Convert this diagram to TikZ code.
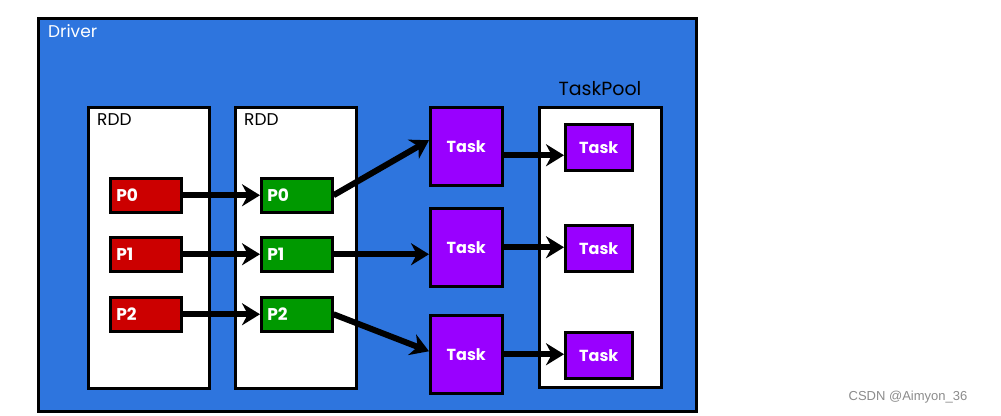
\documentclass[tikz,border=0pt]{standalone}
\usepackage{fontspec}
\setmainfont{Poppins}
\newfontfamily\wmfont{Liberation Sans}
\usetikzlibrary{arrows.meta}
\definecolor{drvblue}{RGB}{46,117,222}
\definecolor{pred}{RGB}{204,0,0}
\definecolor{pgreen}{RGB}{0,153,0}
\definecolor{tpurple}{RGB}{153,0,255}
\definecolor{wmgrey}{RGB}{140,140,140}
\tikzset{
  box/.style={draw=black, line width=2.5pt, fill=white, anchor=north west, inner sep=0pt},
  part/.style={draw=black, line width=2.5pt, anchor=north west, inner xsep=6pt, inner ysep=0pt, text width=59pt, align=left, minimum height=34pt, text=white, font=\fontsize{17}{19}\selectfont\bfseries},
  redpart/.style={part, fill=pred},
  greenpart/.style={part, fill=pgreen},
  bigtask/.style={draw=black, line width=2.5pt, fill=tpurple, anchor=north west, inner sep=0pt, minimum width=72pt, minimum height=78pt, text=white, font=\fontsize{16}{18}\selectfont\bfseries},
  smalltask/.style={draw=black, line width=2.5pt, fill=tpurple, anchor=north west, inner sep=0pt, minimum width=67pt, minimum height=46pt, text=white, font=\fontsize{16}{18}\selectfont\bfseries},
  flow/.style={line width=6pt, -{Stealth[length=18pt,width=22pt]}},
  lbl/.style={anchor=north west, inner sep=0pt, font=\fontsize{17}{19}\selectfont}
}
\begin{document}
\begin{tikzpicture}[x=1pt,y=-1pt]
\useasboundingbox (0,0) rectangle (1001,415);
\fill[white] (0,0) rectangle (1001,415);
\node[draw=black, line width=3pt, fill=drvblue, anchor=north west, inner sep=0pt, minimum width=658pt, minimum height=393pt] (driver) at (37,17) {};
\node[lbl, text=white] (drvlbl) at (48,24) {Driver};

\node[box, minimum width=121pt, minimum height=281pt] (rdd1) at (87,106) {};
\node[box, minimum width=121pt, minimum height=281pt] (rdd2) at (234,106) {};
\node[lbl] (rdd1lbl) at (97,113) {RDD};
\node[lbl] (rdd2lbl) at (244,113) {RDD};

\node[box, minimum width=122pt, minimum height=280pt] (pool) at (538,106) {};
\node[anchor=center, inner sep=0pt, font=\fontsize{19}{21}\selectfont] (poollbl) at (600,89) {TaskPool};

\node[redpart] (r0) at (109,177) {P0};
\node[redpart] (r1) at (109,236) {P1};
\node[redpart] (r2) at (109,296) {P2};
\node[greenpart] (g0) at (260,177) {P0};
\node[greenpart] (g1) at (260,236) {P1};
\node[greenpart] (g2) at (260,296) {P2};

\node[bigtask] (t0) at (429,106) {Task};
\node[bigtask] (t1) at (429,207) {Task};
\node[bigtask] (t2) at (429,314) {Task};

\node[smalltask] (s0) at (564,123) {Task};
\node[smalltask] (s1) at (564,224) {Task};
\node[smalltask] (s2) at (564,331) {Task};

\draw[flow] (r0.east) -- (g0.west);
\draw[flow] (r1.east) -- (g1.west);
\draw[flow] (r2.east) -- (g2.west);
\draw[flow] (g0.east) -- ([yshift=6pt]t0.west);
\draw[flow] (g1.east) -- (t1.west |- g1.east);
\draw[flow] (g2.east) -- ([yshift=3pt]t2.west);
\draw[flow] ([yshift=-9pt]t0.east) -- ([yshift=-9pt]t0.east -| s0.west);
\draw[flow] (t1.east) -- (t1.east -| s1.west);
\draw[flow] (t2.east) -- (t2.east -| s2.west);

\node[anchor=center, inner sep=0pt, text=wmgrey, font=\wmfont\fontsize{13}{15}\selectfont] (wm) at (908,397) {CSDN @Aimyon\_36};
\end{tikzpicture}
\end{document}
